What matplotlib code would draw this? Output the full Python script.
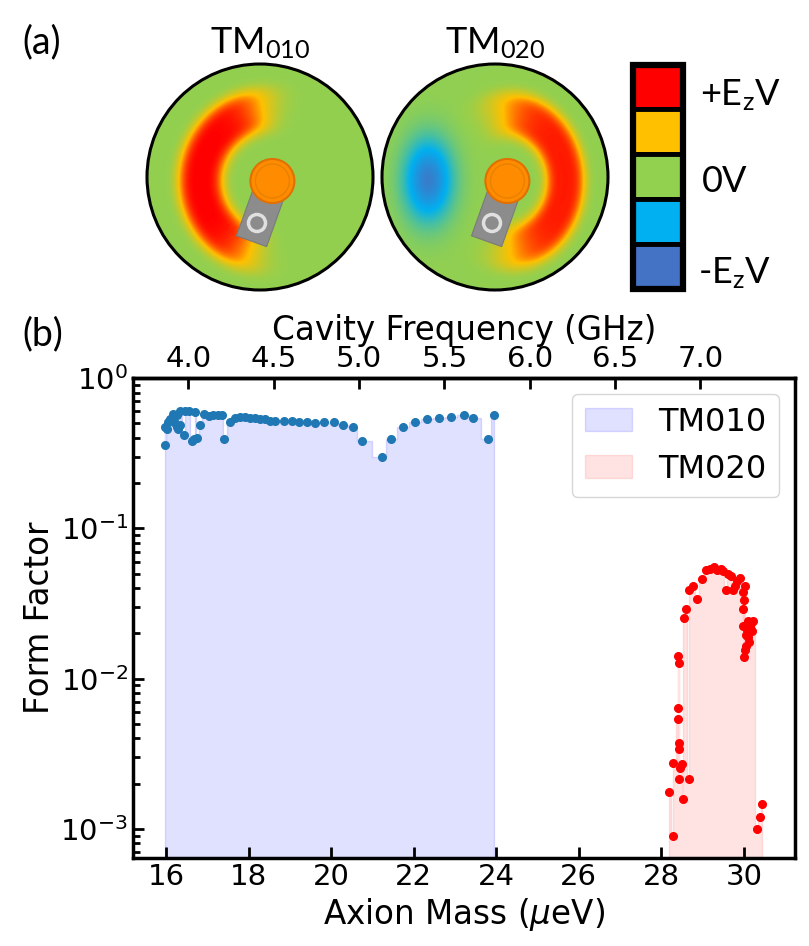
import numpy as np
import matplotlib.pyplot as plt
from matplotlib.colors import LinearSegmentedColormap
from matplotlib.patches import Circle, Polygon, Rectangle

# ---- data: form factor vs axion mass ----
tm010_mass = [15.97, 15.98, 16.02, 16.06, 16.10, 16.18, 16.22, 16.27, 16.27, 16.30,
              16.35, 16.35, 16.43, 16.47, 16.55, 16.63, 16.69, 16.71, 16.75, 16.83,
              16.93, 17.03, 17.15, 17.26, 17.36, 17.41, 17.56, 17.68, 17.80, 17.92,
              18.04, 18.16, 18.28, 18.40, 18.52, 18.65, 18.85, 19.05, 19.23, 19.41,
              19.62, 19.83, 20.06, 20.29, 20.52, 20.75, 21.23, 21.45, 21.73, 22.03,
              22.32, 22.62, 22.91, 23.21, 23.45, 23.80, 23.95]
tm010_ff = [0.47, 0.36, 0.46, 0.51, 0.53, 0.58, 0.50, 0.47, 0.57, 0.46,
            0.49, 0.60, 0.42, 0.60, 0.60, 0.38, 0.39, 0.59, 0.40, 0.49,
            0.58, 0.56, 0.57, 0.57, 0.57, 0.39, 0.51, 0.54, 0.55, 0.55,
            0.54, 0.54, 0.53, 0.53, 0.52, 0.52, 0.52, 0.52, 0.51, 0.51,
            0.50, 0.51, 0.51, 0.49, 0.47, 0.38, 0.30, 0.39, 0.47, 0.51,
            0.53, 0.545, 0.55, 0.57, 0.545, 0.39, 0.57]

tm020_mass = [28.19, 28.29, 28.29, 28.40, 28.40, 28.40, 28.43, 28.43, 28.43, 28.43,
              28.45, 28.49, 28.52, 28.54, 28.59, 28.66, 28.67, 28.77, 28.86, 28.99,
              29.08, 29.18, 29.27, 29.36, 29.44, 29.49, 29.57, 29.62, 29.68, 29.73,
              29.79, 29.84, 29.91, 29.97, 29.97, 29.97, 30.00, 30.00, 30.03, 30.03,
              30.05, 30.06, 30.08, 30.10, 30.11, 30.13, 30.15, 30.17, 30.19, 30.23,
              30.32, 30.39, 30.43]
tm020_ff = [1.76e-3, 8.9e-4, 2.75e-3, 5.4e-3, 6.4e-3, 0.0141, 2.15e-3, 3.4e-3, 3.7e-3, 0.0126,
            2.55e-3, 2.7e-3, 1.57e-3, 0.0253, 0.029, 2.15e-3, 0.0386, 0.041, 0.0338, 0.0459,
            0.0525, 0.0535, 0.0552, 0.0525, 0.0535, 0.0516, 0.0386, 0.0499, 0.0483, 0.039,
            0.0415, 0.0443, 0.0467, 0.0374, 0.029, 0.0223, 0.0335, 0.0139, 0.041, 0.0156,
            0.0164, 0.0195, 0.021, 0.024, 0.0189, 0.0175, 0.022, 0.0235, 0.0206, 0.024,
            1.0e-3, 1.2e-3, 1.46e-3]

freq_ticks = [4.0, 4.5, 5.0, 5.5, 6.0, 6.5, 7.0]
mass_ticks = [16, 18, 20, 22, 24, 26, 28, 30]
H_UEV_PER_GHZ = 4.135667

legend_cols = ['#FF0000', '#FFC000', '#92D050', '#00B0F0', '#4472C4']
mode_names = ['010', '020']

plt.rcParams['mathtext.fontset'] = 'dejavusans'
plt.rcParams['mathtext.rm'] = 'Lato'
plt.rcParams['mathtext.it'] = 'Lato:italic'
plt.rcParams['mathtext.bf'] = 'Lato:bold'

fig = plt.figure(figsize=(8.09, 9.46), dpi=100)

# ---- panel (a): cartoon of the mode fields, drawn in pixel coords ----
axt = fig.add_axes([0, 1 - 300 / 946, 1, 300 / 946])
axt.set_xlim(0, 809)
axt.set_ylim(300, 0)
axt.axis('off')

cmap = LinearSegmentedColormap.from_list('ez', legend_cols[::-1])
R = 113
centers = [(260, 177), (495, 177)]
rod_off = (12.4, 4)   # rod centre relative to cavity centre


def angdiff(a, b):
    return (a - b + 180) % 360 - 180


for i, (cx, cy) in enumerate(centers):
    X, Y = np.meshgrid(np.arange(cx - R, cx + R + 1.0), np.arange(cy - R, cy + R + 1.0))
    rx, ry = cx + rod_off[0], cy + rod_off[1]
    dx = X - rx
    dy = -(Y - ry)
    th = np.degrees(np.arctan2(dy, dx))
    if i == 0:
        r = np.hypot(dx, dy)
        v = np.exp(-((r - 72) / 24) ** 4) * np.exp(-(angdiff(th, 175) / 82) ** 6)
    else:
        r = np.hypot(dx, dy / 1.15)
        v = 0.93 * np.exp(-((r - 58) / 21) ** 4) * np.exp(-(angdiff(th, 3) / 98) ** 6)
        v = v - 0.9 * np.exp(-(((X - (cx - 67)) / 24) ** 2 + ((Y - (cy + 3)) / 40) ** 2))
    im = axt.imshow(v, cmap=cmap, vmin=-1, vmax=1, extent=(cx - R, cx + R, cy + R, cy - R),
                    interpolation='bilinear', zorder=1)
    clip = Circle((cx, cy), R, transform=axt.transData)
    im.set_clip_path(clip)
    axt.add_patch(Circle((cx, cy), R, fc='none', ec='black', lw=2.2, zorder=5))

    # probe arm + rod
    a = np.radians(19.7)
    u = np.array([np.sin(a), -np.cos(a)])
    w = np.array([np.cos(a), np.sin(a)])
    c = np.array([rx - 10.4, ry + 31])
    pts = [c + u * 31 + w * 16, c + u * 31 - w * 16, c - u * 31 - w * 16, c - u * 31 + w * 16]
    axt.add_patch(Polygon(pts, closed=True, fc='#8c8c8c', ec='#7a7a7a', lw=0.8, zorder=3))
    axt.add_patch(Circle((rx - 15.4, ry + 42), 8.5, fc='none', ec='#e0e0e0', lw=2.5, zorder=4))
    axt.add_patch(Circle((rx, ry), 22, fc='#ff8c00', ec='#e07000', lw=1.5, zorder=4))
    axt.add_patch(Circle((rx, ry), 17, fc='none', ec='#e88000', lw=1.0, zorder=4))

    axt.text(cx, 53, 'TM$_{\\mathrm{%s}}$' % mode_names[i], ha='center', va='baseline',
             fontsize=26, family='Lato', math_fontfamily='custom')

# discrete colour key
y0, cell = 64.5, 44.9
for k, col in enumerate(legend_cols):
    axt.add_patch(Rectangle((633.5, y0 + k * cell), 49.5, cell, fc=col, ec='black', lw=3.5, zorder=3))
axt.add_patch(Rectangle((633.5, y0), 49.5, 5 * cell, fc='none', ec='black', lw=4.5, zorder=4))
axt.text(700, 105, '+E$_\\mathrm{z}$V', ha='left', va='baseline', fontsize=26,
         family='Lato', math_fontfamily='custom')
axt.text(702, 192, '0V', ha='left', va='baseline', fontsize=26, family='Lato')
axt.text(698, 283, '-E$_\\mathrm{z}$V', ha='left', va='baseline', fontsize=26,
         family='Lato', math_fontfamily='custom')

fig.text(22 / 809, 1 - 42 / 946, '(a)', ha='left', va='center', fontsize=27, family='Lato')
fig.text(22 / 809, 1 - 334 / 946, '(b)', ha='left', va='center', fontsize=27, family='Lato')

# ---- panel (b): form factor ----
ax = fig.add_axes([133 / 809, 1 - 858 / 946, (795 - 133) / 809, (858 - 378) / 946])

o1 = np.argsort(tm010_mass, kind='stable')
o2 = np.argsort(tm020_mass, kind='stable')
ax.fill_between(np.array(tm010_mass)[o1], np.array(tm010_ff)[o1], 1e-6, step='mid',
                color='blue', alpha=0.12, label='TM010')
ax.fill_between(np.array(tm020_mass)[o2], np.array(tm020_ff)[o2], 1e-6, step='mid',
                color='red', alpha=0.11, label='TM020')
ax.plot(tm010_mass, tm010_ff, 'o', color='#1f77b4', ms=5.5, zorder=3)
ax.plot(tm020_mass, tm020_ff, 'o', color='red', ms=5.5, zorder=3)

ax.set_yscale('log')
ax.set_ylim(6.4e-4, 1)
ax.set_xlim(15.2, 31.24)
ax.set_xticks(mass_ticks)
ax.tick_params(which='both', direction='in', width=2, labelsize=21, right=False, top=False)
ax.tick_params(which='major', length=8)
ax.tick_params(which='minor', length=5)
for s in ax.spines.values():
    s.set_linewidth(2.5)
ax.set_xlabel('Axion Mass ($\\mu$eV)', fontsize=23.5)
ax.set_ylabel('Form Factor', fontsize=23.5, labelpad=3)

sec = ax.secondary_xaxis('top', functions=(lambda m: m / H_UEV_PER_GHZ,
                                           lambda f: f * H_UEV_PER_GHZ))
sec.set_xticks(freq_ticks)
sec.set_xticklabels(['%.1f' % f for f in freq_ticks])
sec.tick_params(direction='in', width=2, length=8, labelsize=21)
sec.spines['top'].set_linewidth(2.5)
sec.set_xlabel('Cavity Frequency (GHz)', fontsize=23.5)

ax.legend(loc='upper right', fontsize=23, handlelength=1.5)

fig.savefig('out.png', dpi=100)
